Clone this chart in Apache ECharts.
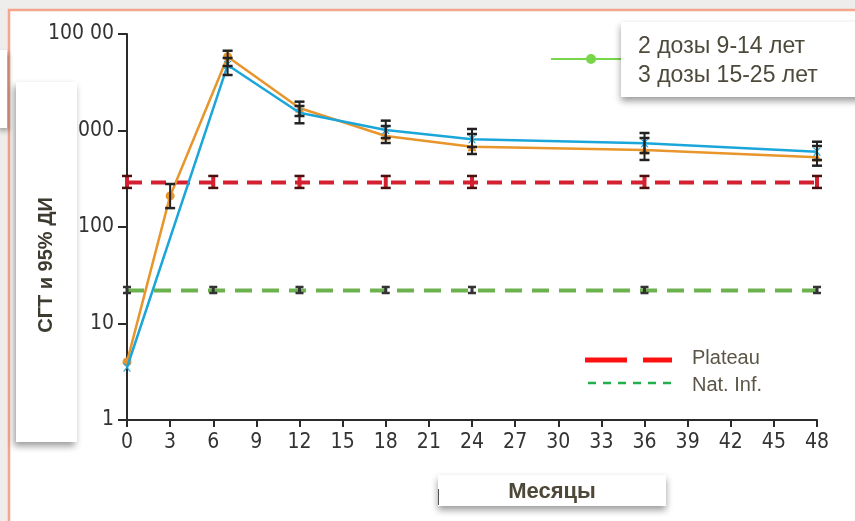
<!DOCTYPE html>
<html>
<head>
<meta charset="utf-8">
<script src="https://cdn.jsdelivr.net/npm/echarts@6/dist/echarts.min.js"></script>
<style>
  html, body { margin: 0; padding: 0; background: #eeedeb; }
  #chart { width: 855px; height: 521px; }
</style>
</head>
<body>
<div id="chart"></div>
<script>
// Months after the first dose
const xTicks = [0, 3, 6, 9, 12, 15, 18, 21, 24, 27, 30, 33, 36, 39, 42, 45, 48];
const yTickLabels = { 1: '1', 10: '10', 100: '100', 1000: '1000', 10000: '100 00' };

// Orange cohort: geometric mean titres with 95% CI
const orangeMonths = [0, 3, 7, 12, 18, 24, 36, 48];
const orangeGMT    = [4.0, 210, 5820, 1710, 877, 679, 628, 528];
const orangeLow    = [null, 157, 4660, 1413, 742, 571, 495, 432];
const orangeHigh   = [null, 279, 6710, 1990, 1113, 920, 836, 691];
const orangeSymbols = ['circle', 'circle', 'circle', 'triangle', 'triangle', 'triangle', 'triangle', 'triangle'];

// Blue cohort
const blueMonths = [0, 7, 12, 18, 24, 36, 48];
const blueGMT    = [3.5, 4770, 1530, 1012, 811, 737, 603];
const blueLow    = [null, 3760, 1188, 836, 675, 585, 495];
const blueHigh   = [null, 5640, 1795, 1265, 1037, 942, 765];

// Reference levels
const refMonths = [0, 6, 12, 18, 24, 36, 48];
const plateauLevel = 290, plateauLow = 254, plateauHigh = 338;
const natInfLevel = 22, natInfLow = 20.7, natInfHigh = 23.9;

const cohortNames = ['2 дозы 9-14 лет', '3 дозы 15-25 лет'];

const chart = echarts.init(document.getElementById('chart'));

function bars(months, lows, highs) {
  const out = [];
  months.forEach((m, i) => { if (lows[i] != null) out.push([m, lows[i], highs[i]]); });
  return out;
}

function errorBarSeries(data, stroke, capStroke, barWidth, capHalf, z) {
  return {
    type: 'custom',
    z: z,
    silent: true,
    encode: { x: 0, y: [1, 2] },
    data: data,
    renderItem: function (params, api) {
      const lo = api.coord([api.value(0), api.value(1)]);
      const hi = api.coord([api.value(0), api.value(2)]);
      return {
        type: 'group',
        children: [
          { type: 'line', shape: { x1: lo[0], y1: lo[1], x2: hi[0], y2: hi[1] },
            style: { stroke: stroke, lineWidth: barWidth } },
          { type: 'line', shape: { x1: lo[0] - capHalf, y1: lo[1], x2: lo[0] + capHalf, y2: lo[1] },
            style: { stroke: capStroke, lineWidth: 2.5 } },
          { type: 'line', shape: { x1: hi[0] - capHalf, y1: hi[1], x2: hi[0] + capHalf, y2: hi[1] },
            style: { stroke: capStroke, lineWidth: 2.5 } }
        ]
      };
    }
  };
}

const labelFont = "'Liberation Sans Narrow', 'DejaVu Sans Condensed', 'Liberation Sans', sans-serif";
const textFont = "'Liberation Sans', Arial, sans-serif";

const option = {
  backgroundColor: '#eeedeb',
  animation: false,
  grid: { left: 127, right: 38, top: 34, bottom: 101, containLabel: false },
  xAxis: {
    type: 'value',
    min: 0, max: 48, interval: 3,
    axisLine: { show: true, lineStyle: { color: '#2b2b2b', width: 2 } },
    axisTick: { show: true, length: 7, lineStyle: { color: '#2b2b2b', width: 2 } },
    splitLine: { show: false },
    axisLabel: { color: '#333', fontSize: 21, fontFamily: labelFont, margin: 12 }
  },
  yAxis: {
    type: 'log', logBase: 10,
    min: 1, max: 10000,
    axisLine: { show: true, lineStyle: { color: '#2b2b2b', width: 2 } },
    axisTick: { show: true, length: 9, lineStyle: { color: '#2b2b2b', width: 2 } },
    splitLine: { show: false },
    axisLabel: {
      color: '#333', fontSize: 21, fontFamily: labelFont, margin: 13,
      formatter: v => yTickLabels[Math.round(v)] || ''
    }
  },
  series: [
    {
      name: 'Plateau', type: 'line', z: 3, symbol: 'none', silent: true,
      data: refMonths.map(m => [m, plateauLevel]),
      lineStyle: { color: '#d42030', width: 4, type: [15, 9] }
    },
    {
      name: 'Nat. Inf.', type: 'line', z: 3, symbol: 'none', silent: true,
      data: refMonths.map(m => [m, natInfLevel]),
      lineStyle: { color: '#6cb24e', width: 4, type: [17, 10] }
    },
    errorBarSeries(refMonths.map(m => [m, plateauLow, plateauHigh]), '#d42030', '#4a1010', 4, 5, 4),
    errorBarSeries(refMonths.map(m => [m, natInfLow, natInfHigh]), '#333', '#333', 3, 4, 4),
    {
      name: cohortNames[0], type: 'line', z: 5, silent: true,
      data: orangeMonths.map((m, i) => ({ value: [m, orangeGMT[i]], symbol: orangeSymbols[i] })),
      symbolSize: 9,
      itemStyle: { color: '#e8952c' },
      lineStyle: { color: '#e8952c', width: 2.5 }
    },
    {
      name: cohortNames[1], type: 'line', z: 6, silent: true,
      data: blueMonths.map((m, i) => ({ value: [m, blueGMT[i]] })),
      symbol: 'path://M0,0L2,0L5,3L8,0L10,0L6,4L6,5L10,10L8,10L5,6L2,10L0,10L4,5L4,4Z',
      symbolSize: 8,
      itemStyle: { color: '#1ba6d9' },
      lineStyle: { color: '#1ba6d9', width: 2.5 }
    },
    errorBarSeries(bars(orangeMonths, orangeLow, orangeHigh), '#222', '#222', 2, 5, 7),
    errorBarSeries(bars(blueMonths, blueLow, blueHigh), '#222', '#222', 2, 5, 7)
  ],
  graphic: [
    // slide frame
    { type: 'rect', z: -100, shape: { x: 9, y: 10, width: 900, height: 600 },
      style: { fill: '#ffffff', stroke: '#f4a58c', lineWidth: 2.5 } },
    // small tab at the left edge
    { type: 'rect', z: 100, shape: { x: -4, y: 50, width: 11, height: 78 },
      style: { fill: '#ffffff', shadowBlur: 5, shadowOffsetX: 2, shadowOffsetY: 3, shadowColor: 'rgba(0,0,0,0.3)' } },
    // y-axis title card
    { type: 'rect', z: 100, shape: { x: 16, y: 82, width: 61, height: 360 },
      style: { fill: '#ffffff', shadowBlur: 7, shadowOffsetX: -2, shadowOffsetY: 4, shadowColor: 'rgba(0,0,0,0.4)' } },
    { type: 'text', z: 101, x: 46, y: 265, rotation: Math.PI / 2,
      style: { text: 'СГТ и 95% ДИ', font: "bold 20px " + textFont, fill: '#3d3a30',
               align: 'center', verticalAlign: 'middle' } },
    // x-axis title card
    { type: 'rect', z: 100, shape: { x: 438, y: 475, width: 228, height: 31 },
      style: { fill: '#ffffff', shadowBlur: 7, shadowOffsetX: 0, shadowOffsetY: 4, shadowColor: 'rgba(0,0,0,0.4)' } },
    { type: 'line', z: 101, shape: { x1: 438.5, y1: 489, x2: 438.5, y2: 505 },
      style: { stroke: '#555', lineWidth: 1 } },
    { type: 'text', z: 101, x: 552, y: 492,
      style: { text: 'Месяцы', font: "bold 22px " + textFont, fill: '#4d4838',
               align: 'center', verticalAlign: 'middle' } },
    // cohort legend card
    { type: 'line', z: 100, shape: { x1: 551, y1: 59, x2: 622, y2: 59 },
      style: { stroke: '#78d64b', lineWidth: 2 } },
    { type: 'circle', z: 100, shape: { cx: 591, cy: 59, r: 5 },
      style: { fill: '#78d64b' } },
    { type: 'rect', z: 100, shape: { x: 621, y: 22, width: 250, height: 75 },
      style: { fill: '#ffffff', shadowBlur: 7, shadowOffsetX: 0, shadowOffsetY: 4, shadowColor: 'rgba(0,0,0,0.4)' } },
    { type: 'text', z: 101, x: 638, y: 47,
      style: { text: cohortNames[0], font: "23px " + textFont, fill: '#4d4a3c', verticalAlign: 'middle' } },
    { type: 'text', z: 101, x: 638, y: 76,
      style: { text: cohortNames[1], font: "23px " + textFont, fill: '#4d4a3c', verticalAlign: 'middle' } },
    // reference-level legend
    { type: 'line', z: 100, shape: { x1: 585, y1: 360, x2: 672, y2: 360 },
      style: { stroke: '#ff1010', lineWidth: 5, lineDash: [42, 16] } },
    { type: 'text', z: 101, x: 692, y: 358,
      style: { text: 'Plateau', font: "20px " + textFont, fill: '#5a5546', verticalAlign: 'middle' } },
    { type: 'line', z: 100, shape: { x1: 588, y1: 383, x2: 672, y2: 383 },
      style: { stroke: '#22b04b', lineWidth: 2.5, lineDash: [8, 7] } },
    { type: 'text', z: 101, x: 692, y: 385,
      style: { text: 'Nat. Inf.', font: "20px " + textFont, fill: '#5a5546', verticalAlign: 'middle' } }
  ]
};

chart.setOption(option);
</script>
</body>
</html>
